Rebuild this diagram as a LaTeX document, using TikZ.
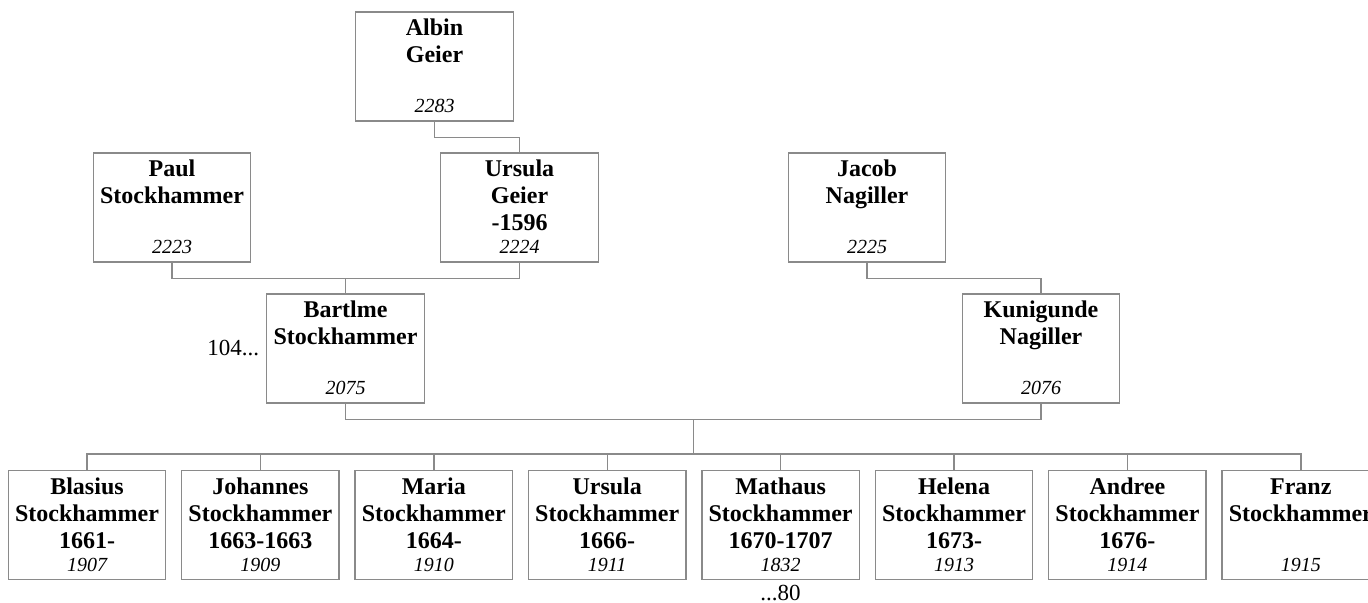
\documentclass[tikz,border=0pt]{standalone}
\usepackage{fontspec}
\setmainfont{Liberation Serif}
\usetikzlibrary{calc}
\definecolor{ink}{HTML}{000000}
\definecolor{frame}{HTML}{8A8A8A}
\tikzset{
  every node/.style={text=ink},
  card/.style={draw=frame, fill=white, line width=.7pt,
    minimum width=78.75pt, minimum height=54.5pt, inner sep=0pt},
  cardname/.style={anchor=north, inner sep=0pt, align=center,
    font=\bfseries\fontsize{12}{13.5}\selectfont},
  cardno/.style={anchor=base, inner sep=0pt,
    font=\itshape\fontsize{10}{12}\selectfont},
  link/.style={draw=frame, line width=.7pt},
  more/.style={inner sep=3.3pt, font=\fontsize{11.5}{13}\selectfont}
}
% one person card: box, bold name lines at the top, italic number at the foot
\newcommand{\famcard}[4]{%
  \node[card] (#1) at (#2) {};
  \node[cardname] (#1-name) at ([yshift=-2.55pt]#1.north) {\strut#3};
  \node[cardno] (#1-no) at ([yshift=4.5pt]#1.south) {#4};}

\begin{document}
\begin{tikzpicture}[x=.5pt,y=-.5pt]
\useasboundingbox (0,0) rectangle (1368,603);

% Grandparents' generation.
\famcard{albin}{434.5,66.5}{Albin\\Geier}{2283}
\famcard{paul}{172,207.5}{Paul\\Stockhammer}{2223}
\famcard{ursulaG}{519.5,207.5}{Ursula\\Geier\\-1596}{2224}
\famcard{jacob}{867,207.5}{Jacob\\Nagiller}{2225}

% The couple.
\famcard{bartlme}{345.5,348.5}{Bartlme\\Stockhammer}{2075}
\famcard{kunigunde}{1041,348.5}{Kunigunde\\Nagiller}{2076}
\node[more, anchor=east] (bartlme-more) at (bartlme.west) {104...};

% Children row.
\famcard{blasius}{87,525}{Blasius\\Stockhammer\\1661-}{1907}
\famcard{johannes}{260.4,525}{Johannes\\Stockhammer\\1663-1663}{1909}
\famcard{maria}{433.8,525}{Maria\\Stockhammer\\1664-}{1910}
\famcard{ursula}{607.2,525}{Ursula\\Stockhammer\\1666-}{1911}
\famcard{mathaus}{780.6,525}{Mathaus\\Stockhammer\\1670-1707}{1832}
\famcard{helena}{954,525}{Helena\\Stockhammer\\1673-}{1913}
\famcard{andree}{1127.4,525}{Andree\\Stockhammer\\1676-}{1914}
\famcard{franz}{1300.8,525}{Franz\\Stockhammer}{1915}
\node[more, anchor=north, inner sep=2.4pt] (mathaus-more) at (mathaus.south) {...80};

% Parent links.
\draw[link] (albin.south) -- ++(0,16) -| (ursulaG.north);
\draw[link] (jacob.south) -- ++(0,16) -| (kunigunde.north);
\draw[link] (paul.south) -- ++(0,16) coordinate (pu) -| (ursulaG.south);
\draw[link] (bartlme.north) -- (bartlme.north |- pu);

% Marriage bar and drop to the children bus.
\draw[link] (bartlme.south) -- ++(0,16) coordinate (bk) -| (kunigunde.south);
\coordinate (bkmid) at ($(bartlme.south |- bk)!.5!(kunigunde.south |- bk)$);
\draw[link] (blasius.north) -- ++(0,-16) coordinate (bus) -| (franz.north);
\draw[link] (bkmid) -- (bkmid |- bus);
\draw[link] (johannes.north) -- (johannes.north |- bus);
\draw[link] (maria.north) -- (maria.north |- bus);
\draw[link] (ursula.north) -- (ursula.north |- bus);
\draw[link] (mathaus.north) -- (mathaus.north |- bus);
\draw[link] (helena.north) -- (helena.north |- bus);
\draw[link] (andree.north) -- (andree.north |- bus);

\end{tikzpicture}
\end{document}
